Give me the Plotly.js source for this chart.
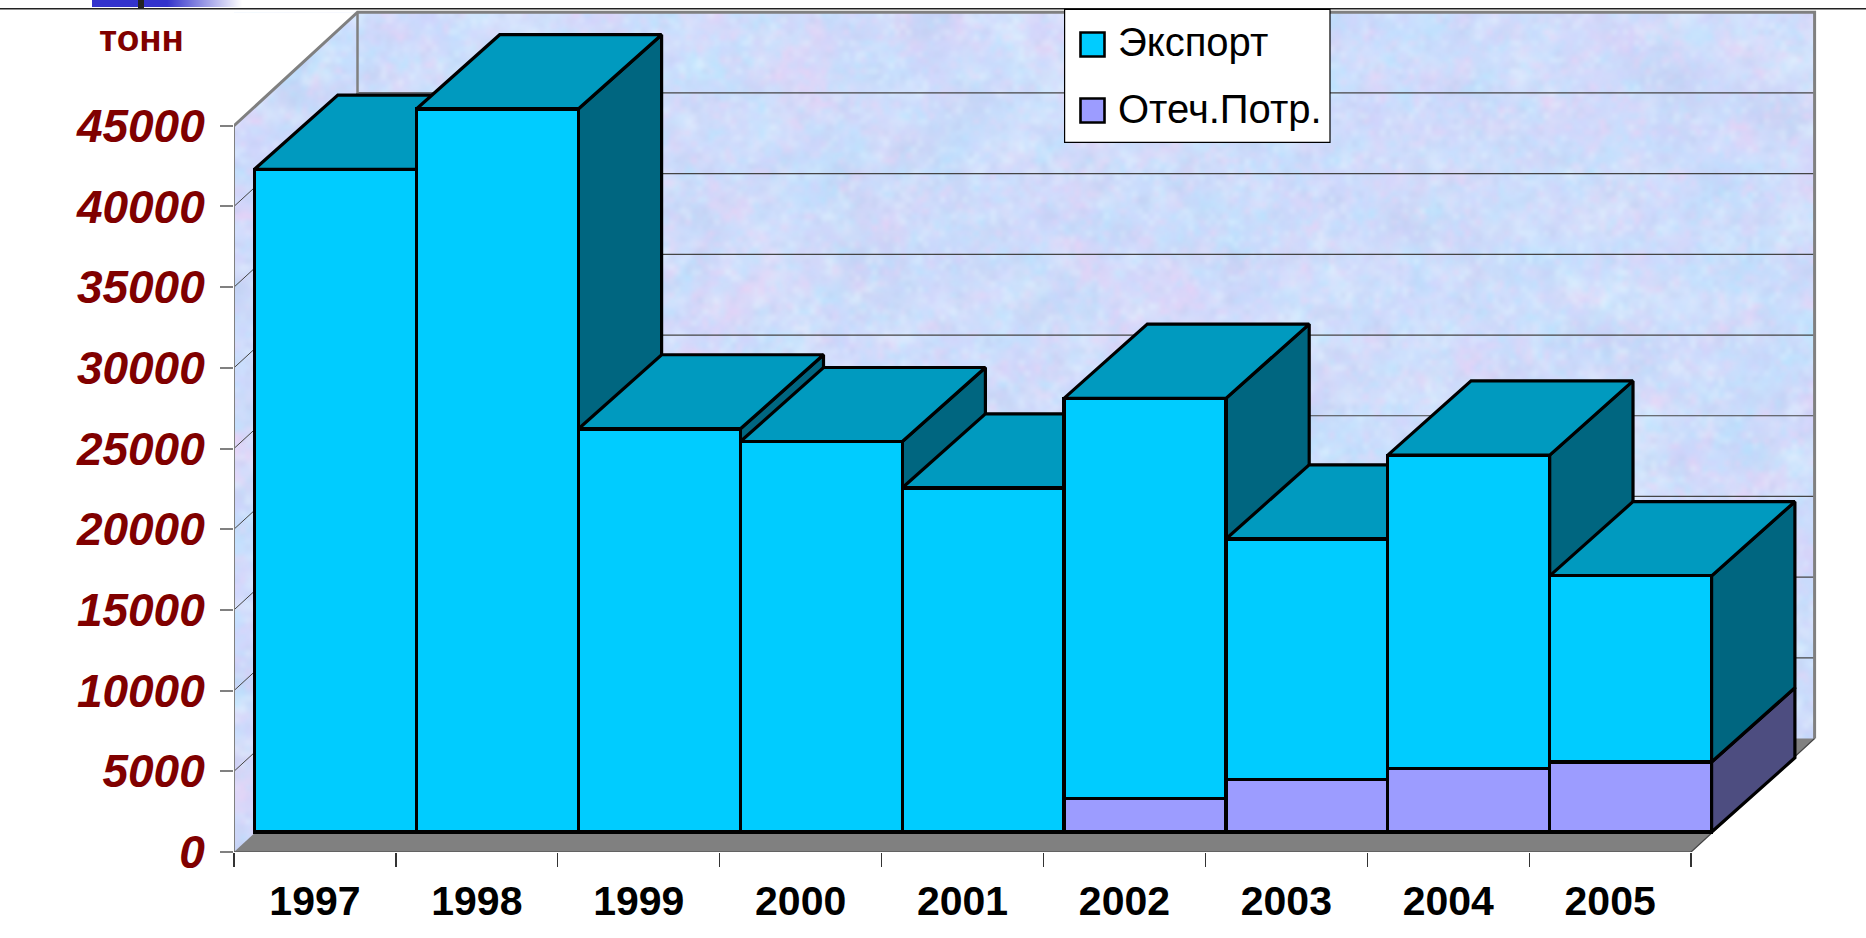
<!DOCTYPE html>
<html><head><meta charset="utf-8">
<script src="https://cdn.plot.ly/plotly-3.0.1.min.js"></script>
<style>html,body{margin:0;padding:0;background:#fff;overflow:hidden}#c{width:1866px;height:938px}</style>
</head><body><div id="c"></div>
<script>
// ---- data (tonnes)
const years = ['1997','1998','1999','2000','2001','2002','2003','2004','2005'];
const exportTons = [41060,44800,24970,24180,21310,24800,14880,19420,11530];
const domesticTons = [0,0,0,0,0,2070,3270,3930,4340];
const seriesNames = ['Экспорт','Отеч.Потр.'];
const yTicks = [0,5000,10000,15000,20000,25000,30000,35000,40000,45000];
const unitLabel = 'тонн';

// ---- geometry of the fake-3D projection
const W=1866,H=938,L=234,B=851.7;
const pxPerCat=161.9, pxPerUnit=80.67/5000;
const xmin=-0.5, xmax=xmin+(W-L)/pxPerCat, ymax=B/pxPerUnit;
const ox=20.5/pxPerCat, oy=20/pxPerUnit;          // bar plane offset from the front plane
const dx=83.3/pxPerCat, dy=74.2/pxPerUnit;        // bar depth
const wx=123.5/pxPerCat, wy=113.4/pxPerUnit;      // wall depth
const ymaxTick=yTicks[yTicks.length-1], xEnd=years.length-0.5;
const TOP='#009ABF',SIDE='#006680',FRONT='#00CCFF',DOM='#9C9CFF',DOMSIDE='#4D4D80';
const GREY='#808080', EDGE=3.2;
const xp=p=>(p-L)/(W-L), yp=p=>1-p/B;

function poly(xs,ys,fill,lineColor,lw){
  return {type:'scatter',mode:lw?'lines':'none',x:xs.concat(xs[0]),y:ys.concat(ys[0]),fill:'toself',fillcolor:fill,
    line:{color:lineColor||fill,width:lw||0},hoverinfo:'skip',showlegend:false};
}
function seg(xs,ys,color,w){
  return {type:'scatter',mode:'lines',x:xs,y:ys,line:{color:color,width:w},hoverinfo:'skip',showlegend:false};
}
const traces=[];
// masks around the textured walls
traces.push(poly([xmin,xmin+wx,xmin],[ymaxTick,ymaxTick+wy,ymaxTick+wy],'#fff'));
traces.push(poly([xEnd,xEnd+wx,xEnd+wx+1,xEnd+1],[0,wy,0,0],'#fff'));
traces.push(poly([xEnd+wx,xmax,xmax,xEnd+wx],[0,0,ymax,ymax],'#fff'));
// floor
traces.push(poly([xmin,xEnd,xEnd+wx,xmin+wx],[0,0,wy,wy],GREY));
// grid lines on the walls
yTicks.slice(1,-1).concat(ymaxTick).forEach(v=>{
  traces.push(seg([xmin,xmin+wx],[v,v+wy],'#444',1));
  traces.push(seg([xmin+wx,xEnd+wx],[v+wy,v+wy],'#444',1.2));
});
// wall edges
traces.push(seg([xmin+wx,xmin+wx],[wy,ymaxTick+wy],GREY,2.5));
traces.push(seg([xmin,xmin+wx,xEnd+wx,xEnd+wx],[ymaxTick,ymaxTick+wy,ymaxTick+wy,wy],GREY,3));
traces.push(seg([xmin,xmin],[0,ymaxTick],GREY,2));
traces.push(seg([xmin,xEnd,xEnd+wx],[0,0,wy],'#444',1.2));
// side + top faces, left to right (fronts are bars on an overlaying subplot above them)
years.forEach((yr,i)=>{
  const R=i+0.5+ox, Lf=i-0.5+ox, b=domesticTons[i]+oy, t=domesticTons[i]+exportTons[i]+oy;
  if(domesticTons[i]>0) traces.push(poly([R,R,R+dx,R+dx],[oy,b,b+dy,oy+dy],DOMSIDE,'#000',EDGE));
  traces.push(poly([R,R,R+dx,R+dx],[b,t,t+dy,b+dy],SIDE,'#000',EDGE));
  traces.push(poly([Lf,R,R+dx,Lf+dx],[t,t,t+dy,t+dy],TOP,'#000',EDGE));
});
// front faces: real stacked bars
const barLine={color:'#000',width:EDGE};
traces.push({type:'bar',name:seriesNames[1],x:years,y:domesticTons,xaxis:'x2',yaxis:'y2',width:1,marker:{color:DOM,line:barLine},showlegend:false,hoverinfo:'skip'});
traces.push({type:'bar',name:seriesNames[0],x:years,y:exportTons,xaxis:'x2',yaxis:'y2',width:1,marker:{color:FRONT,line:barLine},showlegend:false,hoverinfo:'skip'});

// mottled wall texture (decorative only)
function hash(a,b,s){const v=Math.sin(a*127.1+b*311.7+s*74.7)*43758.5453;return v-Math.floor(v);}
function texture(){
  const w=790,h=420,c=document.createElement('canvas');c.width=w;c.height=h;
  const g=c.getContext('2d');g.fillStyle='#D2DEFC';g.fillRect(0,0,w,h);
  const octs=[[40,22,0.6,1],[110,60,0.55,2],[280,150,0.4,3]];
  const pal=[[178,228,255],[236,208,244],[190,204,240],[226,244,255],[208,208,252],[198,222,255]];
  octs.forEach(o=>{
    const t=document.createElement('canvas');t.width=o[0];t.height=o[1];
    const x=t.getContext('2d'),d=x.createImageData(o[0],o[1]);
    for(let j=0;j<o[1];j++)for(let k=0;k<o[0];k++){
      const p=pal[Math.floor(hash(k,j,o[3])*pal.length)],q=(j*o[0]+k)*4;
      d.data[q]=p[0];d.data[q+1]=p[1];d.data[q+2]=p[2];d.data[q+3]=255*o[2]*hash(k,j,o[3]+9);
    }
    x.putImageData(d,0,0);g.imageSmoothingEnabled=true;g.imageSmoothingQuality='high';g.drawImage(t,0,0,w,h);
  });
  return c.toDataURL('image/png');
}
function fade(){
  const c=document.createElement('canvas');c.width=160;c.height=8;const g=c.getContext('2d');
  const gr=g.createLinearGradient(0,0,160,0);gr.addColorStop(0,'#3333CC');gr.addColorStop(0.5,'#3333CC');gr.addColorStop(1,'#ffffff');
  g.fillStyle=gr;g.fillRect(0,0,160,8);return c.toDataURL('image/png');
}
const wallRight=(xEnd+wx-xmin)*pxPerCat+L;
const shapes=[
  {type:'line',xref:'paper',yref:'paper',x0:xp(0),x1:xp(W),y0:yp(8.8),y1:yp(8.8),line:{color:'#222',width:1.6},layer:'above'},
  {type:'rect',xref:'paper',yref:'paper',x0:xp(138),x1:xp(144),y0:yp(0),y1:yp(9),fillcolor:'#222',line:{width:0},layer:'above'},
  {type:'rect',xref:'paper',yref:'paper',x0:xp(1064.6),x1:xp(1330),y0:yp(9.3),y1:yp(142.3),fillcolor:'#fff',line:{color:'#000',width:1.2},layer:'above'},
  {type:'rect',xref:'paper',yref:'paper',x0:xp(1080.5),x1:xp(1104.5),y0:yp(32.5),y1:yp(56.5),fillcolor:FRONT,line:{color:'#000',width:2.6},layer:'above'},
  {type:'rect',xref:'paper',yref:'paper',x0:xp(1080.5),x1:xp(1104.5),y0:yp(98.5),y1:yp(122.5),fillcolor:DOM,line:{color:'#000',width:2.6},layer:'above'}
];
const legendFont={family:'"Liberation Sans",Arial,sans-serif',size:40,color:'#000'};
const annotations=[
  {xref:'paper',yref:'paper',x:xp(141),y:yp(38),text:'<b>'+unitLabel+'</b>',showarrow:false,xanchor:'center',yanchor:'middle',font:{family:'"Liberation Sans",Arial,sans-serif',size:37,color:'#800000'}},
  {xref:'paper',yref:'paper',x:xp(1115.5),y:yp(42),text:seriesNames[0],showarrow:false,xanchor:'left',yanchor:'middle',font:legendFont},
  {xref:'paper',yref:'paper',x:xp(1115.5),y:yp(109),text:seriesNames[1],showarrow:false,xanchor:'left',yanchor:'middle',font:legendFont}
];
const layout={
  width:W,height:H,margin:{l:L,r:0,t:0,b:H-B,pad:0},paper_bgcolor:'#fff',plot_bgcolor:'rgba(0,0,0,0)',
  showlegend:false,barmode:'stack',bargap:0,hovermode:false,
  xaxis:{type:'linear',range:[xmin,xmax],tickmode:'array',tickvals:years.map((_,i)=>i),ticktext:years,
    ticks:'outside',ticklen:0,tickwidth:0,ticklabelstandoff:13,showgrid:false,zeroline:false,showline:false,
    tickfont:{family:'"Liberation Sans",Arial,sans-serif',size:41,color:'#000',weight:700},
    minor:{tickmode:'array',tickvals:years.map((_,i)=>i-0.5).concat(xEnd),ticks:'outside',ticklen:14,tickwidth:1.2,tickcolor:'#333',showgrid:false}},
  yaxis:{type:'linear',range:[0,ymax],tickmode:'array',tickvals:yTicks,ticktext:yTicks.map(String),
    ticks:'outside',ticklen:13,tickwidth:2,tickcolor:GREY,showgrid:false,zeroline:false,showline:false,ticklabelstandoff:6,
    tickfont:{family:'"Liberation Sans",Arial,sans-serif',size:46,color:'#800000',weight:700,style:'italic'}},
  xaxis2:{type:'category',categoryorder:'array',categoryarray:years,overlaying:'x',range:[xmin-ox,xmax-ox],visible:false,fixedrange:true},
  yaxis2:{type:'linear',overlaying:'y',range:[-oy,ymax-oy],visible:false,fixedrange:true},
  images:[
    {source:texture(),xref:'paper',yref:'paper',x:xp(L),y:yp(12.3),sizex:xp(wallRight)-xp(L),sizey:yp(12.3)-yp(B),sizing:'stretch',xanchor:'left',yanchor:'top',layer:'below'},
    {source:fade(),xref:'paper',yref:'paper',x:xp(92),y:yp(0),sizex:xp(242)-xp(92),sizey:yp(0)-yp(7),sizing:'stretch',xanchor:'left',yanchor:'top',layer:'above'}
  ],
  shapes:shapes,annotations:annotations
};
Plotly.newPlot('c',traces,layout,{staticPlot:true,displayModeBar:false});
</script></body></html>
